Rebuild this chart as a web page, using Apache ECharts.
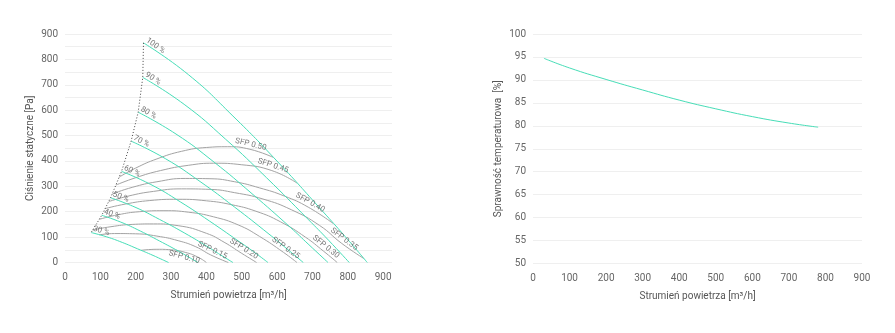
<!DOCTYPE html>
<html>
<head>
<meta charset="utf-8">
<script src="https://cdn.jsdelivr.net/npm/echarts@6/dist/echarts.min.js"></script>
<style>
  html, body { margin: 0; padding: 0; background: #ffffff; }
  #chart { width: 895px; height: 333px; }
</style>
</head>
<body>
<div id="chart"></div>
<script>
// ---- Fan characteristic: speed curves, flow [m³/h] vs static pressure [Pa] ----
const speed100 = [[222, 865], [349, 740], [475, 577], [602, 396], [728, 203], [792, 103], [855, 0]];
const speed90  = [[220, 729], [337, 623], [454, 486], [570, 334], [687, 171], [746, 87], [804, 0]];
const speed80  = [[207, 592], [314, 506], [422, 395], [529, 271], [637, 139], [690, 70], [744, 0]];
const speed70  = [[187, 478], [284, 409], [382, 319], [479, 219], [577, 112], [625, 57], [674, 0]];
const speed60  = [[160, 359], [243, 307], [326, 239], [408, 164], [491, 84], [533, 43], [574, 0]];
const speed50  = [[129, 255], [198, 218], [267, 170], [337, 117], [406, 60], [440, 30], [475, 0]];
const speed40  = [[104, 186], [158, 159], [213, 124], [267, 85], [322, 44], [349, 22], [376, 0]];
const speed30  = [[74, 118], [118, 101], [162, 79], [205, 54], [249, 28], [271, 14], [293, 0]];
const speedNames = ['100 %', '90 %', '80 %', '70 %', '60 %', '50 %', '40 %', '30 %'];

// ---- Lines of constant specific fan power ----
const sfp50 = [[153, 336], [200, 372], [260, 408], [330, 438], [400, 453], [460, 456], [523, 446], [589, 414]];
const sfp45 = [[144, 305], [200, 334], [270, 362], [350, 383], [420, 391], [500, 385], [585, 362], [656, 313]];
const sfp40 = [[134, 270], [190, 296], [260, 318], [340, 331], [410, 330], [480, 318], [550, 294], [620, 262], [688, 218], [759, 153]];
const sfp35 = [[124, 240], [180, 262], [250, 280], [330, 290], [410, 288], [480, 275], [560, 250], [640, 208], [720, 146], [783, 75], [845, 16]];
const sfp30 = [[113, 212], [170, 230], [240, 244], [320, 249], [400, 243], [470, 228], [540, 202], [610, 160], [680, 100], [731, 45], [770, 0]];
const sfp25 = [[97, 170], [150, 188], [210, 200], [280, 204], [350, 198], [420, 180], [490, 148], [550, 103], [618, 40], [656, 0]];
const sfp20 = [[78, 128], [130, 141], [190, 150], [250, 152], [320, 145], [400, 115], [450, 80], [500, 36], [542, 0]];
const sfp15 = [[97, 109], [140, 114], [200, 113], [260, 104], [320, 86], [370, 62], [412, 30], [462, 0]];
const sfp10 = [[215, 48], [260, 52], [300, 50], [340, 40], [375, 22], [400, 0]];
const sfpNames = ['SFP 0.50', 'SFP 0.45', 'SFP 0.40', 'SFP 0.35', 'SFP 0.30', 'SFP 0.25', 'SFP 0.20', 'SFP 0.15', 'SFP 0.10'];

// ---- Temperature efficiency vs flow ----
const effFlow  = [30, 100, 200, 300, 400, 500, 600, 700, 780];
const effValue = [94.7, 92.6, 90.1, 87.8, 85.6, 83.7, 82.0, 80.6, 79.7];

// ---- Axis ticks ----
const flowTicks     = [0, 100, 200, 300, 400, 500, 600, 700, 800, 900];
const pressureTicks = [0, 100, 200, 300, 400, 500, 600, 700, 800, 900];
const effTicks      = [50, 55, 60, 65, 70, 75, 80, 85, 90, 95, 100];

// ---- Styling / layout ----
const GREEN = '#47ddb7';
const ARC = '#a3a3a3';
const TEXT = '#666666';
const GRIDLINE = '#efefef';
const FONT = 'Roboto, "Noto Sans", sans-serif';
// vertex of each SFP line that carries its caption, and which side of the line it sits on
const sfpLabelIdx  = [6, 6, 8, 9, 9, 8, 7, 6, 3];
const sfpLabelSide = ['top', 'top', 'top', 'top', 'top', 'top', 'top', 'top', 'bottom'];

const speedCurves = [speed100, speed90, speed80, speed70, speed60, speed50, speed40, speed30];
const sfpCurves = [sfp50, sfp45, sfp40, sfp35, sfp30, sfp25, sfp20, sfp15, sfp10];

const chart = echarts.init(document.getElementById('chart'), null, { renderer: 'canvas' });

function axisText(size) {
  return { color: TEXT, fontSize: size, fontFamily: FONT };
}

function buildOption(speedAngles, sfpAngles) {
  const series = [];
  speedCurves.forEach(c => series.push({
    type: 'line', xAxisIndex: 0, yAxisIndex: 0, data: c, smooth: true,
    symbol: 'none', silent: true, z: 3,
    lineStyle: { color: GREEN, width: 1 }
  }));
  sfpCurves.forEach(c => series.push({
    type: 'line', xAxisIndex: 0, yAxisIndex: 0, data: c, smooth: true,
    symbol: 'none', silent: true, z: 2,
    lineStyle: { color: ARC, width: 1 }
  }));
  // limit line through the start of each speed curve
  series.push({
    type: 'line', xAxisIndex: 0, yAxisIndex: 0,
    data: speedCurves.map(c => c[0]),
    symbol: 'none', silent: true, z: 4,
    lineStyle: { color: '#444', width: 1, type: [1, 2] }
  });
  // speed captions
  series.push({
    type: 'scatter', xAxisIndex: 0, yAxisIndex: 0, symbolSize: 0, silent: true, z: 6,
    data: speedCurves.map((c, i) => ({
      value: c[0],
      label: {
        show: true, formatter: speedNames[i], position: 'right', distance: 1,
        align: 'left', verticalAlign: 'bottom',
        rotate: speedAngles ? speedAngles[i] : 0,
        color: '#555', fontSize: 8, fontFamily: FONT
      }
    }))
  });
  // SFP captions
  series.push({
    type: 'scatter', xAxisIndex: 0, yAxisIndex: 0, symbolSize: 0, silent: true, z: 6,
    data: sfpCurves.map((c, i) => ({
      value: c[sfpLabelIdx[i]],
      label: {
        show: true, formatter: sfpNames[i], position: sfpLabelSide[i], distance: 1,
        rotate: sfpAngles ? sfpAngles[i] : 0,
        color: '#555', fontSize: 8, fontFamily: FONT
      }
    }))
  });
  // efficiency curve
  series.push({
    type: 'line', xAxisIndex: 1, yAxisIndex: 1,
    data: effFlow.map((f, i) => [f, effValue[i]]),
    smooth: true, symbol: 'none', silent: true,
    lineStyle: { color: GREEN, width: 1 }
  });

  const flowStep = flowTicks[1] - flowTicks[0];
  const pStep = pressureTicks[1] - pressureTicks[0];
  const eStep = effTicks[1] - effTicks[0];

  return {
    animation: false,
    backgroundColor: '#ffffff',
    textStyle: { fontFamily: FONT },
    grid: [
      { left: 65, right: 503, top: 34, bottom: 70.5 },
      { left: 533, right: 33, top: 34, bottom: 69.5 }
    ],
    xAxis: [
      {
        gridIndex: 0, type: 'value', min: flowTicks[0], max: 925, interval: flowStep,
        name: 'Strumień powietrza [m³/h]', nameLocation: 'middle', nameGap: 28,
        nameTextStyle: { color: '#555', fontSize: 10, fontFamily: FONT },
        axisLine: { show: false }, axisTick: { show: false }, splitLine: { show: false },
        axisLabel: Object.assign({ margin: 10, showMaxLabel: false,
          formatter: v => flowTicks.includes(v) ? String(v) : '' }, axisText(10))
      },
      {
        gridIndex: 1, type: 'value', min: flowTicks[0], max: flowTicks[flowTicks.length - 1], interval: flowStep,
        name: 'Strumień powietrza [m³/h]', nameLocation: 'middle', nameGap: 28,
        nameTextStyle: { color: '#555', fontSize: 10, fontFamily: FONT },
        axisLine: { show: false }, axisTick: { show: false }, splitLine: { show: false },
        axisLabel: Object.assign({ margin: 10 }, axisText(10))
      }
    ],
    yAxis: [
      {
        gridIndex: 0, type: 'value', min: pressureTicks[0], max: pressureTicks[pressureTicks.length - 1],
        interval: pStep / 2,
        name: 'Ciśnienie statyczne [Pa]', nameLocation: 'middle', nameGap: 30,
        nameTextStyle: { color: '#555', fontSize: 10, fontFamily: FONT },
        axisLine: { show: false }, axisTick: { show: false },
        splitLine: { show: true, lineStyle: { color: GRIDLINE, width: 1 } },
        axisLabel: Object.assign({ margin: 7,
          formatter: v => pressureTicks.includes(v) ? String(v) : '' }, axisText(10))
      },
      {
        gridIndex: 1, type: 'value', min: effTicks[0], max: effTicks[effTicks.length - 1], interval: eStep,
        name: 'Sprawność temperaturowa  [%]', nameLocation: 'middle', nameGap: 30,
        nameTextStyle: { color: '#555', fontSize: 10, fontFamily: FONT },
        axisLine: { show: false }, axisTick: { show: false },
        splitLine: { show: true, lineStyle: { color: GRIDLINE, width: 1 } },
        axisLabel: Object.assign({ margin: 7 }, axisText(10))
      }
    ],
    series: series
  };
}

chart.setOption(buildOption(null, null));

// caption angles follow the local direction of each curve on screen
function screenAngle(a, b) {
  const p = chart.convertToPixel({ gridIndex: 0 }, a);
  const q = chart.convertToPixel({ gridIndex: 0 }, b);
  return -Math.atan2(q[1] - p[1], q[0] - p[0]) * 180 / Math.PI;
}
const speedAngles = speedCurves.map(c => screenAngle(c[0], c[1]));
const sfpAngles = sfpCurves.map((c, i) => {
  const k = sfpLabelIdx[i];
  return screenAngle(c[Math.max(0, k - 1)], c[Math.min(c.length - 1, k + 1)]);
});
chart.setOption(buildOption(speedAngles, sfpAngles), true);
</script>
</body>
</html>
